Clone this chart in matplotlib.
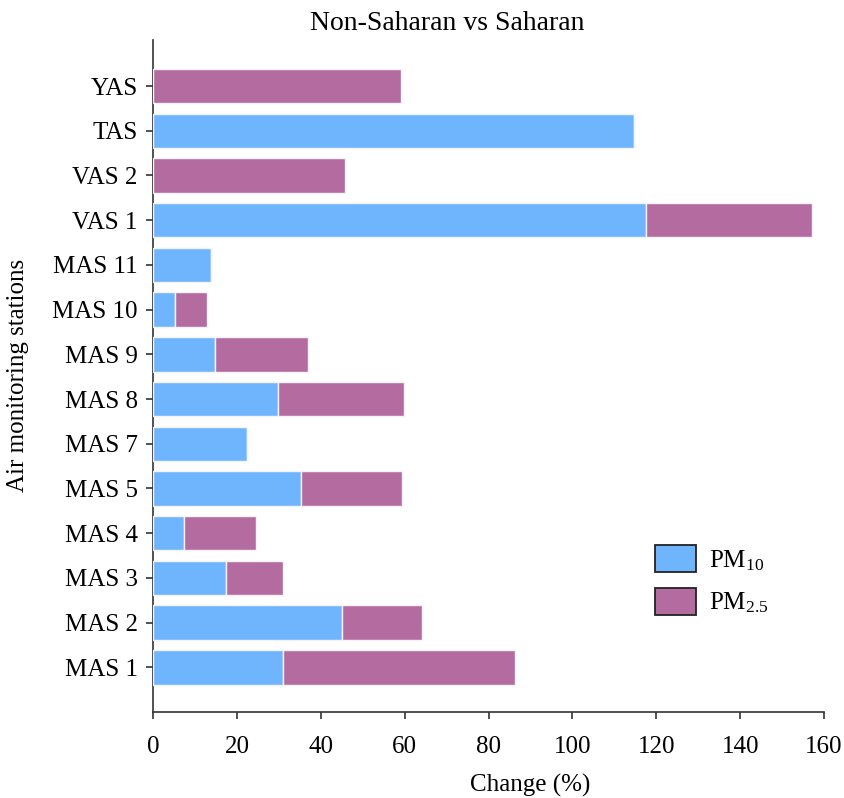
import matplotlib
matplotlib.use("Agg")
import matplotlib.pyplot as plt
from matplotlib.patches import Patch

plt.rcParams["font.family"] = ["Liberation Serif", "DejaVu Serif"]
plt.rcParams["mathtext.fontset"] = "custom"
plt.rcParams["mathtext.rm"] = "Liberation Serif"
plt.rcParams["mathtext.default"] = "regular"

# Stations listed bottom to top
stations = ["MAS 1", "MAS 2", "MAS 3", "MAS 4", "MAS 5", "MAS 7", "MAS 8",
            "MAS 9", "MAS 10", "MAS 11", "VAS 1", "VAS 2", "TAS", "YAS"]
pm10 = [30.9, 45.0, 17.3, 7.4, 35.3, 22.3, 29.9,
        14.7, 5.2, 13.8, 117.6, 0.0, 114.7, 0.0]
pm25 = [55.3, 19.1, 13.6, 17.2, 24.1, 0.0, 30.0,
        22.2, 7.6, 0.0, 39.5, 45.8, 0.0, 59.2]
x_ticks = [0, 20, 40, 60, 80, 100, 120, 140, 160]

blue = "#6fb5fd"
purple = "#b46ca0"

fig = plt.figure(figsize=(8.44, 7.98), dpi=100)
ax = fig.add_axes([153 / 844, 1 - 712 / 798, (824 - 153) / 844, (712 - 40) / 798])

y = list(range(len(stations)))
ax.barh(y, pm10, height=0.77, color=blue, edgecolor="#f4f4f8",
        linewidth=1.0, zorder=3)
ax.barh(y, pm25, left=pm10, height=0.77, color=purple, edgecolor="#f4f4f8",
        linewidth=1.0, zorder=3)

ax.set_xlim(0, 160)
ax.set_ylim(-1.0, 14.03)
ax.set_yticks(y)
ax.set_yticklabels(stations, fontsize=18)
ax.set_xticks(x_ticks)
ax.set_xticklabels([str(t) for t in x_ticks], fontsize=18)
ax.tick_params(axis="both", direction="out", length=5, width=1.2, color="#333333")
ax.tick_params(axis="x", pad=12)
ax.tick_params(axis="y", pad=6)

for side in ("top", "right"):
    ax.spines[side].set_visible(False)
for side in ("left", "bottom"):
    ax.spines[side].set_linewidth(1.2)
    ax.spines[side].set_color("#333333")

fig.text(447 / 844, 1 - 23 / 798, "Non-Saharan vs Saharan", fontsize=20,
         ha="center", va="center")
fig.text(530 / 844, 1 - 785 / 798, "Change (%)", fontsize=18,
         ha="center", va="center")
fig.text(18 / 844, 1 - 375 / 798, "Air monitoring stations", fontsize=18,
         ha="center", va="center", rotation=90)

handles = [Patch(facecolor=blue, edgecolor="#222222", linewidth=1.3),
           Patch(facecolor=purple, edgecolor="#222222", linewidth=1.3)]
ax.legend(handles, ["PM$_{10}$", "PM$_{2.5}$"], loc="upper left",
          bbox_to_anchor=(650 / 844, 1 - 540 / 798), bbox_transform=fig.transFigure,
          frameon=False, fontsize=18, handlelength=1.65, handleheight=1.3,
          labelspacing=0.6, handletextpad=0.5, borderaxespad=0, borderpad=0.2)

fig.savefig("out.png", dpi=100, facecolor="white")
